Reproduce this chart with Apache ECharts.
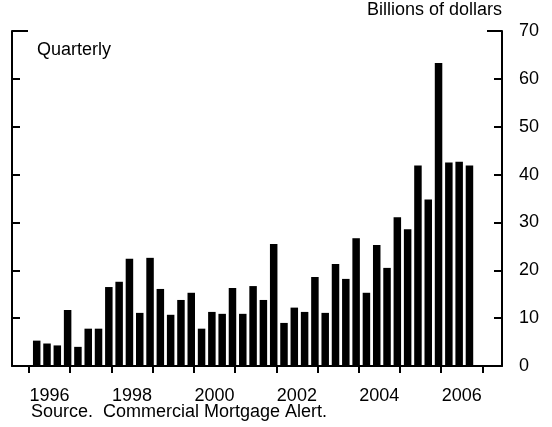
<!DOCTYPE html>
<html>
<head>
<meta charset="utf-8">
<script src="https://cdn.jsdelivr.net/npm/echarts@6/dist/echarts.min.js"></script>
<style>
html,body{margin:0;padding:0;background:#fff;}
#chart{width:552px;height:427px;}
</style>
</head>
<body>
<div id="chart"></div>
<script>
// Quarterly values, 1996 Q1 .. 2006 Q3 (billions of dollars)
const firstYear = 1996;
const quarters = ['Q1', 'Q2', 'Q3', 'Q4'];
const values = [
  5.3, 4.7, 4.3, 11.7,   // 1996
  4.0, 7.8, 7.8, 16.5,   // 1997
  17.6, 22.4, 11.1, 22.6, // 1998
  16.1, 10.7, 13.8, 15.3, // 1999
  7.8, 11.3, 10.9, 16.3,  // 2000
  10.9, 16.7, 13.8, 25.5, // 2001
  9.0, 12.2, 11.3, 18.6,  // 2002
  11.1, 21.3, 18.2, 26.7, // 2003
  15.3, 25.3, 20.5, 31.1, // 2004
  28.6, 41.9, 34.8, 63.3, // 2005
  42.5, 42.7, 41.9        // 2006
];
const tickYears = [1996, 1997, 1998, 1999, 2000, 2001, 2002, 2003, 2004, 2005, 2006, 2007];
const labelYears = [1996, 1998, 2000, 2002, 2004, 2006];
const yTicks = [0, 10, 20, 30, 40, 50, 60, 70];

const FONT = 'Liberation Sans, Arial, sans-serif';
const FS = 18;

const barData = values.map((v, i) => [firstYear + Math.floor(i / 4) + ((i % 4) + 0.75) / 4, v]);

const chart = echarts.init(document.getElementById('chart'), null, {renderer: 'canvas'});
const baseY = {
  type: 'value', min: 0, max: 70, interval: 10,
  splitLine: {show: false}
};
chart.setOption({
  animation: false,
  backgroundColor: '#fff',
  title: [
    {text: 'Billions of dollars', right: 50, top: 0, padding: 0,
     textStyle: {fontFamily: FONT, fontSize: FS, fontWeight: 'normal', color: '#000', lineHeight: 20}},
    {text: 'Quarterly', left: 37, top: 40, padding: 0,
     textStyle: {fontFamily: FONT, fontSize: FS, fontWeight: 'normal', color: '#000', lineHeight: 20}},
    {text: 'Source.  Commercial Mortgage Alert.', left: 31, top: 402, padding: 0,
     textStyle: {fontFamily: FONT, fontSize: FS, fontWeight: 'normal', color: '#000', lineHeight: 20}}
  ],
  grid: {left: 12, right: 50, top: 31, bottom: 61, containLabel: false},
  xAxis: {
    type: 'value', min: 1995.588, max: 2007.477,
    axisLine: {show: true, onZero: false, lineStyle: {color: '#000', width: 2}},
    axisTick: {show: true, inside: false, length: 7, lineStyle: {color: '#000', width: 2}, customValues: tickYears},
    axisLabel: {show: true, customValues: labelYears.map(y => y + 0.5), formatter: v => String(Math.floor(v)),
      fontFamily: FONT, fontSize: FS, color: '#000', margin: 21},
    splitLine: {show: false}
  },
  yAxis: [
    Object.assign({}, baseY, {
      position: 'left',
      axisLine: {show: true, lineStyle: {color: '#000', width: 2}},
      axisTick: {show: true, inside: true, length: 8, lineStyle: {color: '#000', width: 2}},
      axisLabel: {show: false}
    }),
    Object.assign({}, baseY, {
      position: 'right',
      axisLine: {show: true, lineStyle: {color: '#000', width: 2}},
      axisTick: {show: true, inside: true, length: 8, lineStyle: {color: '#000', width: 2}},
      axisLabel: {show: true, fontFamily: FONT, fontSize: FS, color: '#000', margin: 17,
        customValues: yTicks}
    }),
    Object.assign({}, baseY, {
      position: 'left',
      axisLine: {show: false},
      axisTick: {show: true, inside: true, length: 16, lineStyle: {color: '#000', width: 2}, customValues: [70]},
      axisLabel: {show: false}
    }),
    Object.assign({}, baseY, {
      position: 'right',
      axisLine: {show: false},
      axisTick: {show: true, inside: true, length: 15, lineStyle: {color: '#000', width: 2}, customValues: [70]},
      axisLabel: {show: false}
    })
  ],
  series: [{
    type: 'bar',
    name: 'Quarterly',
    xAxisIndex: 0, yAxisIndex: 0,
    barWidth: 7.5,
    itemStyle: {color: '#000'},
    data: barData
  }]
});
</script>
</body>
</html>
